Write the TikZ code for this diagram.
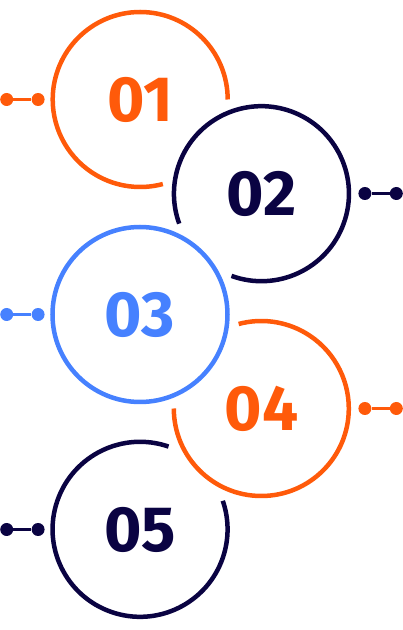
\documentclass[tikz,border=0pt]{standalone}
\usepackage{fontspec}
\setmainfont{Fira Sans}
\usepackage{tikz}
\usetikzlibrary{positioning}
\definecolor{flame}{HTML}{FF5A0A}
\definecolor{ink}{HTML}{0A0342}
\definecolor{sky}{HTML}{4681FF}
\begin{document}
\begin{tikzpicture}[x=1pt, y=1pt,
    ring/.style={circle, minimum size=175pt, inner sep=0pt, font=\bfseries\fontsize{64}{64}\selectfont},
    rim/.style={line width=4.5pt},
    dot/.style={circle, fill, inner sep=0pt, minimum size=13pt},
    link/.style={line width=2.2pt}
]
\useasboundingbox (0,0) rectangle (403,630);

% Circles
\node (c1) [ring, text=flame] at (140,530.5) {01};
\node (c2) [ring, text=ink] at (261.5,436.5) {02};
\node (c3) [ring, text=sky] at (140,315.5) {03};
\node (c4) [ring, text=flame] at (261.5,221.5) {04};
\node (c5) [ring, text=ink] at (140,100.5) {05};

% Rims
\draw [rim, flame] (c1.0) arc[start angle=0, end angle=285, radius=87.5pt];
\draw [rim, ink] (c2.250) arc[start angle=250, end angle=560, radius=87.5pt];
\draw [rim, sky] (c3) circle[radius=87.5pt];
\draw [rim, flame] (c4.180) arc[start angle=180, end angle=465, radius=87.5pt];
\draw [rim, ink] (c5.71) arc[start angle=71, end angle=379, radius=87.5pt];

% Pins
\node (p1b) [dot, flame, left=7.5pt of c1] {};
\node (p1a) [dot, flame, left=18pt of p1b] {};
\node (p2b) [dot, ink, right=9pt of c2] {};
\node (p2a) [dot, ink, right=18pt of p2b] {};
\node (p3b) [dot, sky, left=7.5pt of c3] {};
\node (p3a) [dot, sky, left=18pt of p3b] {};
\node (p4b) [dot, flame, right=9pt of c4] {};
\node (p4a) [dot, flame, right=18pt of p4b] {};
\node (p5b) [dot, ink, left=7.5pt of c5] {};
\node (p5a) [dot, ink, left=18pt of p5b] {};

% Links
\draw [link, flame] (p1a) -- (p1b);
\draw [link, ink] (p2b) -- (p2a);
\draw [link, sky] (p3a) -- (p3b);
\draw [link, flame] (p4b) -- (p4a);
\draw [link, ink] (p5a) -- (p5b);

\end{tikzpicture}
\end{document}
